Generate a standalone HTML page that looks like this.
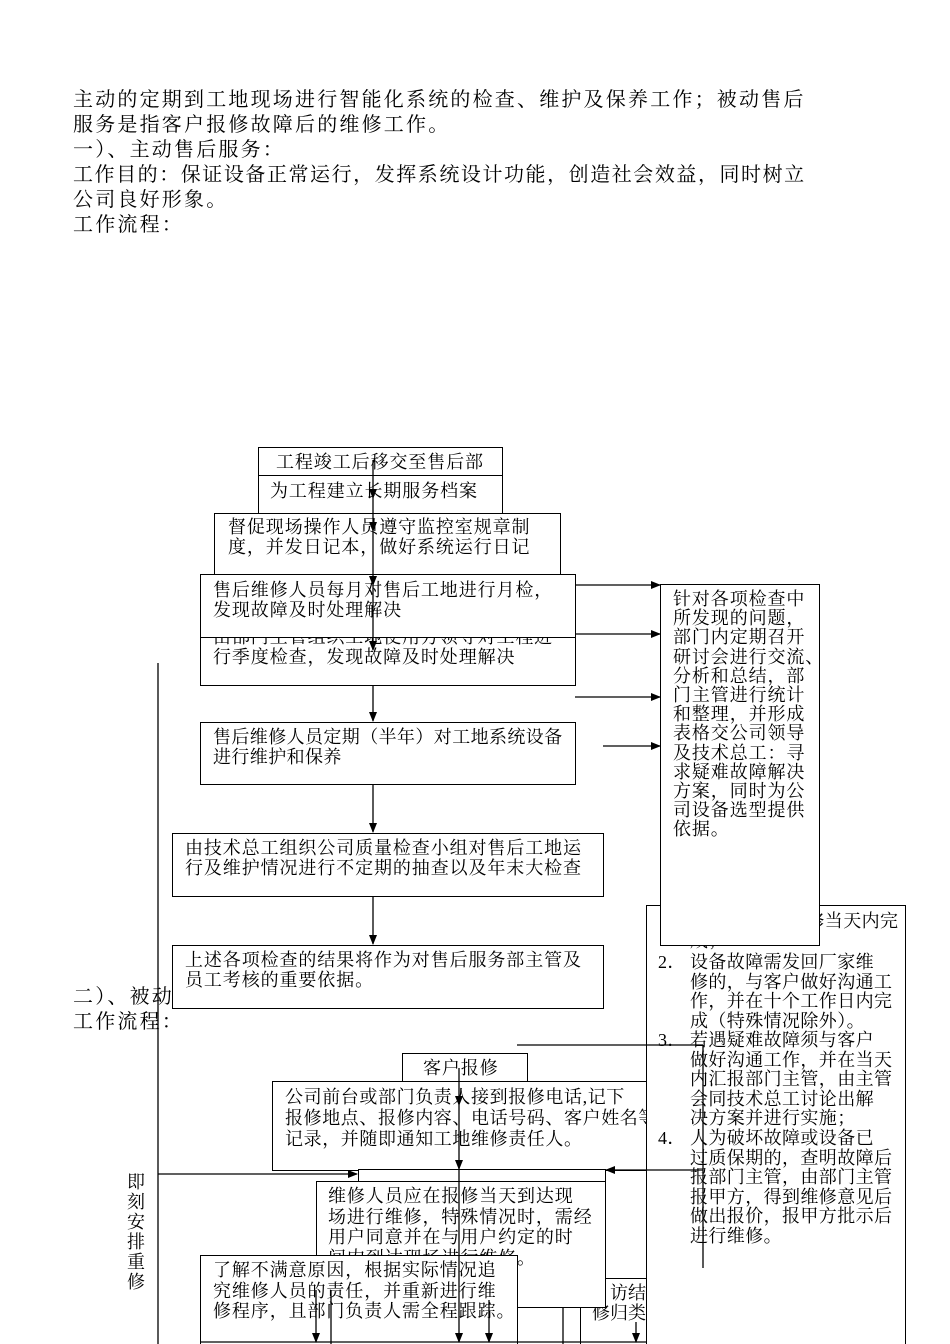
<!DOCTYPE html>
<html><head><meta charset="utf-8"><style>
html,body{margin:0;width:950px;height:1344px;overflow:hidden}
body{position:relative;background:#fff;font-family:"Liberation Serif","Noto Serif CJK SC","Noto Sans CJK SC",serif;color:#000}
.b{position:absolute;border:1.3px solid #000;background:#fff;box-sizing:border-box}
.t{position:absolute;font-size:18px;line-height:20px;letter-spacing:0.9px;white-space:pre}
.p{position:absolute;left:73px;font-size:20px;line-height:25px;letter-spacing:2.2px;white-space:pre}
.r{position:absolute;font-size:18px;line-height:19.6px;letter-spacing:0.4px;white-space:pre}
svg{position:absolute;left:0;top:0}
</style></head><body>
<div class="p" style="top:88px">主动的定期到工地现场进行智能化系统的检查、维护及保养工作；被动售后
服务是指客户报修故障后的维修工作。
一）、主动售后服务：</div>
<div class="p" style="top:163px;letter-spacing:1.55px">工作目的：保证设备正常运行，发挥系统设计功能，创造社会效益，同时树立</div>
<div class="p" style="top:188px">公司良好形象。
工作流程：</div>
<div class="p" style="top:985px">二）、被动
工作流程：</div>

<div class="b" style="left:258px;top:447px;width:245px;height:29px"></div>
<div class="t" style="left:276px;top:452px">工程竣工后移交至售后部</div>
<div class="b" style="left:258px;top:475px;width:245px;height:39px"></div>
<div class="t" style="left:270px;top:481px">为工程建立长期服务档案</div>
<div class="b" style="left:214px;top:513px;width:347px;height:65px"></div>
<div class="t" style="left:228px;top:517px">督促现场操作人员遵守监控室规章制
度，并发日记本，做好系统运行日记</div>
<div class="b" style="left:200px;top:600px;width:376px;height:86px"></div>
<div class="t" style="left:213px;top:627px">由部门主管组织工地使用方领导对工程进
行季度检查，发现故障及时处理解决</div>
<div class="b" style="left:200px;top:574px;width:376px;height:64px"></div>
<div class="t" style="left:213px;top:580px">售后维修人员每月对售后工地进行月检，
发现故障及时处理解决</div>
<div class="b" style="left:200px;top:722px;width:376px;height:63px"></div>
<div class="t" style="left:213px;top:727px;letter-spacing:0.4px">售后维修人员定期（半年）对工地系统设备
进行维护和保养</div>
<div class="b" style="left:172px;top:833px;width:432px;height:64px"></div>
<div class="t" style="left:185px;top:838px">由技术总工组织公司质量检查小组对售后工地运
行及维护情况进行不定期的抽查以及年末大检查</div>
<div class="b" style="left:172px;top:945px;width:432px;height:64px"></div>
<div class="t" style="left:185px;top:950px">上述各项检查的结果将作为对售后服务部主管及
员工考核的重要依据。</div>

<div class="b" style="left:402px;top:1053px;width:126px;height:30px"></div>
<div class="t" style="left:423px;top:1058px">客户报修</div>
<div class="b" style="left:272px;top:1081px;width:390px;height:90px"></div>
<div class="t" style="left:285px;top:1087px;line-height:21px;letter-spacing:0.6px">公司前台或部门负责人接到报修电话,记下
报修地点、报修内容、电话号码、客户姓名等
记录，并随即通知工地维修责任人。</div>

<div class="b" style="left:646px;top:905px;width:260px;height:470px"></div>
<div class="r" style="left:788px;top:912px">维修当天内完</div>
<div class="r" style="left:690px;top:932px">成；</div>
<div class="r" style="left:658px;top:953px">2．</div>
<div class="r" style="left:690px;top:953px">设备故障需发回厂家维
修的，与客户做好沟通工
作，并在十个工作日内完
成（特殊情况除外）。</div>
<div class="r" style="left:658px;top:1031px">3．</div>
<div class="r" style="left:690px;top:1031px">若遇疑难故障须与客户
做好沟通工作，并在当天
内汇报部门主管，由主管
会同技术总工讨论出解
决方案并进行实施；</div>
<div class="r" style="left:658px;top:1129px">4．</div>
<div class="r" style="left:690px;top:1129px">人为破坏故障或设备已
过质保期的，查明故障后
报部门主管，由部门主管
报甲方，得到维修意见后
做出报价，报甲方批示后
进行维修。</div>
<div class="b" style="left:660px;top:584px;width:160px;height:362px"></div>
<div class="t" style="left:673px;top:590px;line-height:19.2px;letter-spacing:0.9px">针对各项检查中
所发现的问题，
部门内定期召开
研讨会进行交流、
分析和总结，部
门主管进行统计
和整理，并形成
表格交公司领导
及技术总工：寻
求疑难故障解决
方案，同时为公
司设备选型提供
依据。</div>

<div class="b" style="left:358px;top:1169px;width:248px;height:14px"></div>
<div class="b" style="left:580px;top:1278px;width:67px;height:80px"></div>
<div class="t" style="left:590px;top:1283px;width:56px;text-align:right;line-height:20px;letter-spacing:0">访结
修归类</div>
<div class="b" style="left:316px;top:1181px;width:290px;height:127px"></div>
<div class="t" style="left:328px;top:1186px;line-height:20.5px">维修人员应在报修当天到达现
场进行维修，特殊情况时，需经
用户同意并在与用户约定的时
间内到达现场进行维修。</div>
<div class="b" style="left:200px;top:1255px;width:318px;height:100px"></div>
<div class="t" style="left:213px;top:1260px;line-height:20.5px">了解不满意原因，根据实际情况追
究维修人员的责任，并重新进行维
修程序，且部门负责人需全程跟踪。</div>
<div class="t" style="left:127px;top:1172px;width:20px;white-space:normal;line-height:20px">即刻安排重修</div>

<svg width="950" height="1344" viewBox="0 0 950 1344">
<defs><marker id="a" markerWidth="10" markerHeight="8" refX="9" refY="4" orient="auto" markerUnits="userSpaceOnUse"><path d="M0,0L10,4L0,8z" fill="#000"/></marker></defs>
<g stroke="#000" stroke-width="1.3" fill="none">
<line x1="373" y1="460" x2="373" y2="498" marker-end="url(#a)"/>
<line x1="373" y1="498" x2="373" y2="531" marker-end="url(#a)"/>
<line x1="373" y1="531" x2="373" y2="585" marker-end="url(#a)"/>
<line x1="373" y1="585" x2="373" y2="650" marker-end="url(#a)"/>
<line x1="373" y1="685" x2="373" y2="721" marker-end="url(#a)"/>
<line x1="373" y1="785" x2="373" y2="832" marker-end="url(#a)"/>
<line x1="373" y1="897" x2="373" y2="944" marker-end="url(#a)"/>
<line x1="576" y1="585" x2="660" y2="585" marker-end="url(#a)"/>
<line x1="576" y1="634" x2="660" y2="634" marker-end="url(#a)"/>
<line x1="575" y1="697" x2="660" y2="697" marker-end="url(#a)"/>
<line x1="603" y1="746" x2="660" y2="746" marker-end="url(#a)"/>
<line x1="158" y1="663" x2="158" y2="1344"/>
<line x1="158" y1="1174" x2="357" y2="1174" marker-end="url(#a)"/>
<line x1="517" y1="1045" x2="703" y2="1045"/>
<line x1="703" y1="1045" x2="703" y2="1268"/>
<line x1="703" y1="1170" x2="606" y2="1170" marker-end="url(#a)"/>
<line x1="459" y1="1068" x2="459" y2="1105" marker-end="url(#a)"/>
<line x1="459" y1="1105" x2="459" y2="1169" marker-end="url(#a)"/>
<line x1="459" y1="1169" x2="459" y2="1342" marker-end="url(#a)"/>
<line x1="316" y1="1290" x2="316" y2="1342" marker-end="url(#a)"/>
<line x1="331" y1="1290" x2="331" y2="1344"/>
<line x1="489" y1="1300" x2="489" y2="1342" marker-end="url(#a)"/>
<line x1="563" y1="1308" x2="563" y2="1344"/>
<line x1="636" y1="1322" x2="636" y2="1342" marker-end="url(#a)"/>
<line x1="200" y1="1342" x2="646" y2="1342"/>
</g></svg>
</body></html>
